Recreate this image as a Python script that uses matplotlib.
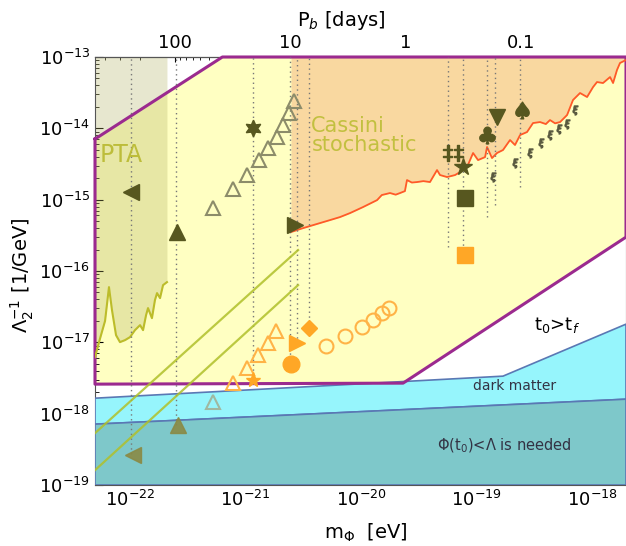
import numpy as np
import matplotlib
matplotlib.use('Agg')
import matplotlib.pyplot as plt
from matplotlib.ticker import LogLocator, NullFormatter

# all values are log10(m / eV) and log10(Lambda^-1 / GeV^-1)
allowed_logm = [-22.303, -21.20, -17.706, -17.706, -19.636, -22.303]
allowed_logl = [-14.150, -13.0, -13.0, -15.525, -17.572, -17.586]

dm_logm = [-22.303, -18.771, -17.706, -17.706, -22.303]
dm_logl = [-17.783, -17.474, -16.745, -17.797, -18.147]

phi_logm = [-22.303, -17.706, -17.706, -22.303]
phi_logl = [-18.147, -17.797, -19.0, -19.0]

pta_logm = [-22.303, -22.260, -22.216, -22.182, -22.156, -22.121, -22.087, -22.043,
            -22.000, -21.957, -21.913, -21.887, -21.861, -21.844, -21.810, -21.784,
            -21.766, -21.740, -21.714, -21.680]
pta_logl = [-17.208, -16.950, -16.700, -16.226, -16.548, -16.899, -16.997, -16.969,
            -16.927, -16.829, -16.759, -16.829, -16.619, -16.520, -16.661, -16.408,
            -16.310, -16.380, -16.198, -16.156]

cassini_logm = [-20.606, -20.528, -20.442, -20.355, -20.268, -20.182, -20.095, -19.983,
                -19.861, -19.820, -19.749, -19.700, -19.662, -19.620, -19.602, -19.560,
                -19.515, -19.460, -19.403, -19.342, -19.316, -19.255, -19.186, -19.143,
                -19.082, -19.030, -18.987, -18.926, -18.909, -18.866, -18.823, -18.771,
                -18.710, -18.667, -18.623, -18.563, -18.511, -18.450, -18.400, -18.364,
                -18.320, -18.277, -18.216, -18.165, -18.104, -18.043, -17.991, -17.957,
                -17.905, -17.844, -17.818, -17.784, -17.758, -17.706]
cassini_logl = [-15.454, -15.412, -15.370, -15.328, -15.286, -15.244, -15.188, -15.104,
                -15.006, -14.935, -14.907, -14.930, -14.907, -14.880, -14.725, -14.760,
                -14.753, -14.740, -14.753, -14.585, -14.655, -14.683, -14.655, -14.613,
                -14.543, -14.346, -14.445, -14.403, -14.262, -14.417, -14.346, -14.304,
                -14.164, -14.234, -14.094, -14.052, -13.926, -13.912, -13.940, -13.884,
                -13.930, -13.912, -13.813, -13.603, -13.505, -13.561, -13.421, -13.351,
                -13.365, -13.281, -13.365, -13.182, -13.084, -13.042]

# dotted vertical guides: mass and lowest point
guide_logm = [-21.991, -21.602, -20.935, -20.615, -20.554, -20.450, -19.247, -19.117,
              -18.909, -18.840, -18.623]
guide_low = [-18.56, -18.16, -17.53, -17.31, -17.01, -16.79, -15.66, -15.78,
             -15.244, -15.076, -14.823]

diag1_logm = [-22.303, -20.545]
diag1_logl = [-18.273, -15.707]
diag2_logm = [-22.303, -20.545]
diag2_logl = [-18.792, -16.198]

# binary pulsar markers (upper = current bound, lower = projected)
up_open_logm = [-21.281, -21.108, -20.987, -20.883, -20.805, -20.727, -20.675, -20.623, -20.580]
up_open_logl = [-15.118, -14.851, -14.655, -14.445, -14.276, -14.122, -13.954, -13.785, -13.617]
lo_open_logm = [-21.108, -20.987, -20.892, -20.805, -20.736]
lo_open_logl = [-17.572, -17.362, -17.180, -17.011, -16.843]
circ_logm = [-20.303, -20.139, -19.991, -19.896, -19.818, -19.758]
circ_logl = [-17.053, -16.913, -16.787, -16.689, -16.590, -16.520]
xi_logm = [-18.857, -18.667, -18.537, -18.442, -18.364, -18.286, -18.216, -18.147]
xi_logl = [-14.683, -14.487, -14.346, -14.206, -14.094, -14.010, -13.940, -13.743]

up_marks = [('<', -21.991, -14.893, 12), ('^', -21.593, -15.454, 12),
            ((6, 1, 0), -20.935, -13.996, 12), ('>', -20.571, -15.356, 12),
            (r'$\ddag\ddag$', -19.203, -14.346, 14), ('*', -19.117, -14.543, 13),
            ('s', -19.100, -14.978, 11), (r'$\clubsuit$', -18.909, -14.094, 12),
            ('v', -18.823, -13.842, 12), (r'$\spadesuit$', -18.606, -13.743, 12)]
lo_faded = [('<', -21.974, -18.582, 12), ('^', -21.584, -18.161, 12)]
lo_orange = [('*', -20.935, -17.530, 11), ('o', -20.606, -17.306, 12),
             ('>', -20.554, -17.011, 12), ('D', -20.450, -16.801, 8),
             ('s', -19.100, -15.777, 11)]

P_CONST = -19.613  # log10(m * P_b[days])


def L(a):
    return 10 ** np.asarray(a, dtype=float)


plt.rcParams['font.family'] = 'DejaVu Sans'
fig = plt.figure(figsize=(6.26, 5.46), dpi=100)
ax = fig.add_axes([95 / 626, 61 / 546, 531 / 626, 428 / 546])
ax.set_xscale('log')
ax.set_yscale('log')
ax.set_facecolor('white')

ax.fill(L(allowed_logm), L(allowed_logl), color='#ffffc2', lw=0, zorder=1)
ax.fill_between(L(pta_logm), L(pta_logl), 1e-13, color='#b2b262', alpha=0.3, lw=0, zorder=2)
ax.fill_between(L(cassini_logm), L(cassini_logl), 1e-13, color='#f9d8a0', lw=0, zorder=2)
ax.fill(L(dm_logm), L(dm_logl), facecolor='#96f5fc', edgecolor='#5a78b4', lw=1.2, zorder=3)
ax.fill(L(phi_logm), L(phi_logl), facecolor='#7ec8ca', edgecolor='#5a78b4', lw=1.2, zorder=3)

ax.plot(L(allowed_logm + allowed_logm[:1]), L(allowed_logl + allowed_logl[:1]),
        color='#9b2a8f', lw=2.2, zorder=4, clip_on=False)
ax.plot(L(cassini_logm), L(cassini_logl), color='#ff5a28', lw=1.3, zorder=4)
ax.plot(L(pta_logm), L(pta_logl), color='#bcbc2a', lw=1.5, zorder=4)

for gm, gl in zip(guide_logm, guide_low):
    ax.plot([10 ** gm, 10 ** gm], [10 ** gl, 1e-13], color='#777777', ls=(0, (1, 2.5)),
            lw=1, zorder=5)

ax.plot(L(diag1_logm), L(diag1_logl), color='#b0c02a', lw=1.6, alpha=0.85, zorder=5)
ax.plot(L(diag2_logm), L(diag2_logl), color='#b0c02a', lw=1.6, alpha=0.85, zorder=5)

olive = '#57571f'
ax.plot(L(up_open_logm), L(up_open_logl), ls='none', marker='^', ms=10, mfc='none',
        mec='#8c8c6a', mew=1.5, zorder=6)
ax.plot(L(lo_open_logm), L(lo_open_logl), ls='none', marker='^', ms=10, mfc='none',
        mec='#ffb347', mew=1.5, zorder=6)
ax.plot(10 ** -21.281, 10 ** -17.839, ls='none', marker='^', ms=10, mfc='none',
        mec='#a0b8a0', mew=1.5, zorder=6)
ax.plot(L(circ_logm), L(circ_logl), ls='none', marker='o', ms=10, mfc='none',
        mec='#ffb347', mew=1.5, zorder=6)
ax.plot(L(xi_logm), L(xi_logl), ls='none', marker=r'$\xi$', ms=6.5, color='#5a5a40', zorder=6)
for mk, lm, ll, ms in up_marks:
    ax.plot(10 ** lm, 10 ** ll, ls='none', marker=mk, ms=ms, color=olive, zorder=7)
for mk, lm, ll, ms in lo_faded:
    ax.plot(10 ** lm, 10 ** ll, ls='none', marker=mk, ms=ms, color='#8a8a45', alpha=0.9, zorder=7)
for mk, lm, ll, ms in lo_orange:
    ax.plot(10 ** lm, 10 ** ll, ls='none', marker=mk, ms=ms, color='#ffa726', zorder=7)

ax.text(10 ** -22.26, 10 ** -14.374, 'PTA', color='#bdbd3a', fontsize=17, va='center', zorder=8)
ax.text(10 ** -20.43, 10 ** -14.10, 'Cassini\nstochastic', color='#c2c040', fontsize=15,
        va='center', linespacing=0.95, zorder=8)
ax.text(10 ** -18.30, 10 ** -16.76, 't$_0$>t$_f$', fontsize=13, ha='center', va='center', zorder=8)
ax.text(10 ** -18.67, 10 ** -17.614, 'dark matter', fontsize=10, color='#333344',
        ha='center', va='center', zorder=8)
ax.text(10 ** -18.76, 10 ** -18.456, 'Φ(t$_0$)<Λ is needed', fontsize=10.5, color='#333344',
        ha='center', va='center', zorder=8)

ax.set_xlim(10 ** -22.303, 10 ** -17.706)
ax.set_ylim(1e-19, 1e-13)
ax.set_xticks([1e-22, 1e-21, 1e-20, 1e-19, 1e-18])
ax.set_yticks([1e-19, 1e-18, 1e-17, 1e-16, 1e-15, 1e-14, 1e-13])
ax.set_xlabel(r'm$_\Phi$  [eV]', fontsize=14)
ax.xaxis.set_label_coords(0.51, -0.085)
ax.set_ylabel(r'$\Lambda_2^{-1}$ [1/GeV]', fontsize=14)
ax.yaxis.set_label_coords(-0.111, 0.49)
ax.tick_params(which='both', direction='in', labelsize=13)
ax.tick_params(which='major', length=6)
ax.tick_params(which='minor', length=3)
ax.xaxis.set_minor_locator(LogLocator(base=10, subs=np.arange(2, 10), numticks=20))
ax.yaxis.set_minor_locator(LogLocator(base=10, subs=np.arange(2, 10), numticks=20))
ax.xaxis.set_minor_formatter(NullFormatter())
ax.yaxis.set_minor_formatter(NullFormatter())
for s in ax.spines.values():
    s.set_color('#555555')

top = ax.secondary_xaxis('top', functions=(lambda m: 10 ** P_CONST / m,
                                           lambda p: 10 ** P_CONST / p))
top.set_xticks([100, 10, 1, 0.1], labels=['100', '10', '1', '0.1'])
top.xaxis.set_minor_formatter(NullFormatter())
top.tick_params(which='both', direction='in', labelsize=13)
top.set_xlabel(r'P$_b$ [days]', fontsize=14, labelpad=6)
top.xaxis.label.set_x(0.465)

fig.savefig('out.png', dpi=100)
